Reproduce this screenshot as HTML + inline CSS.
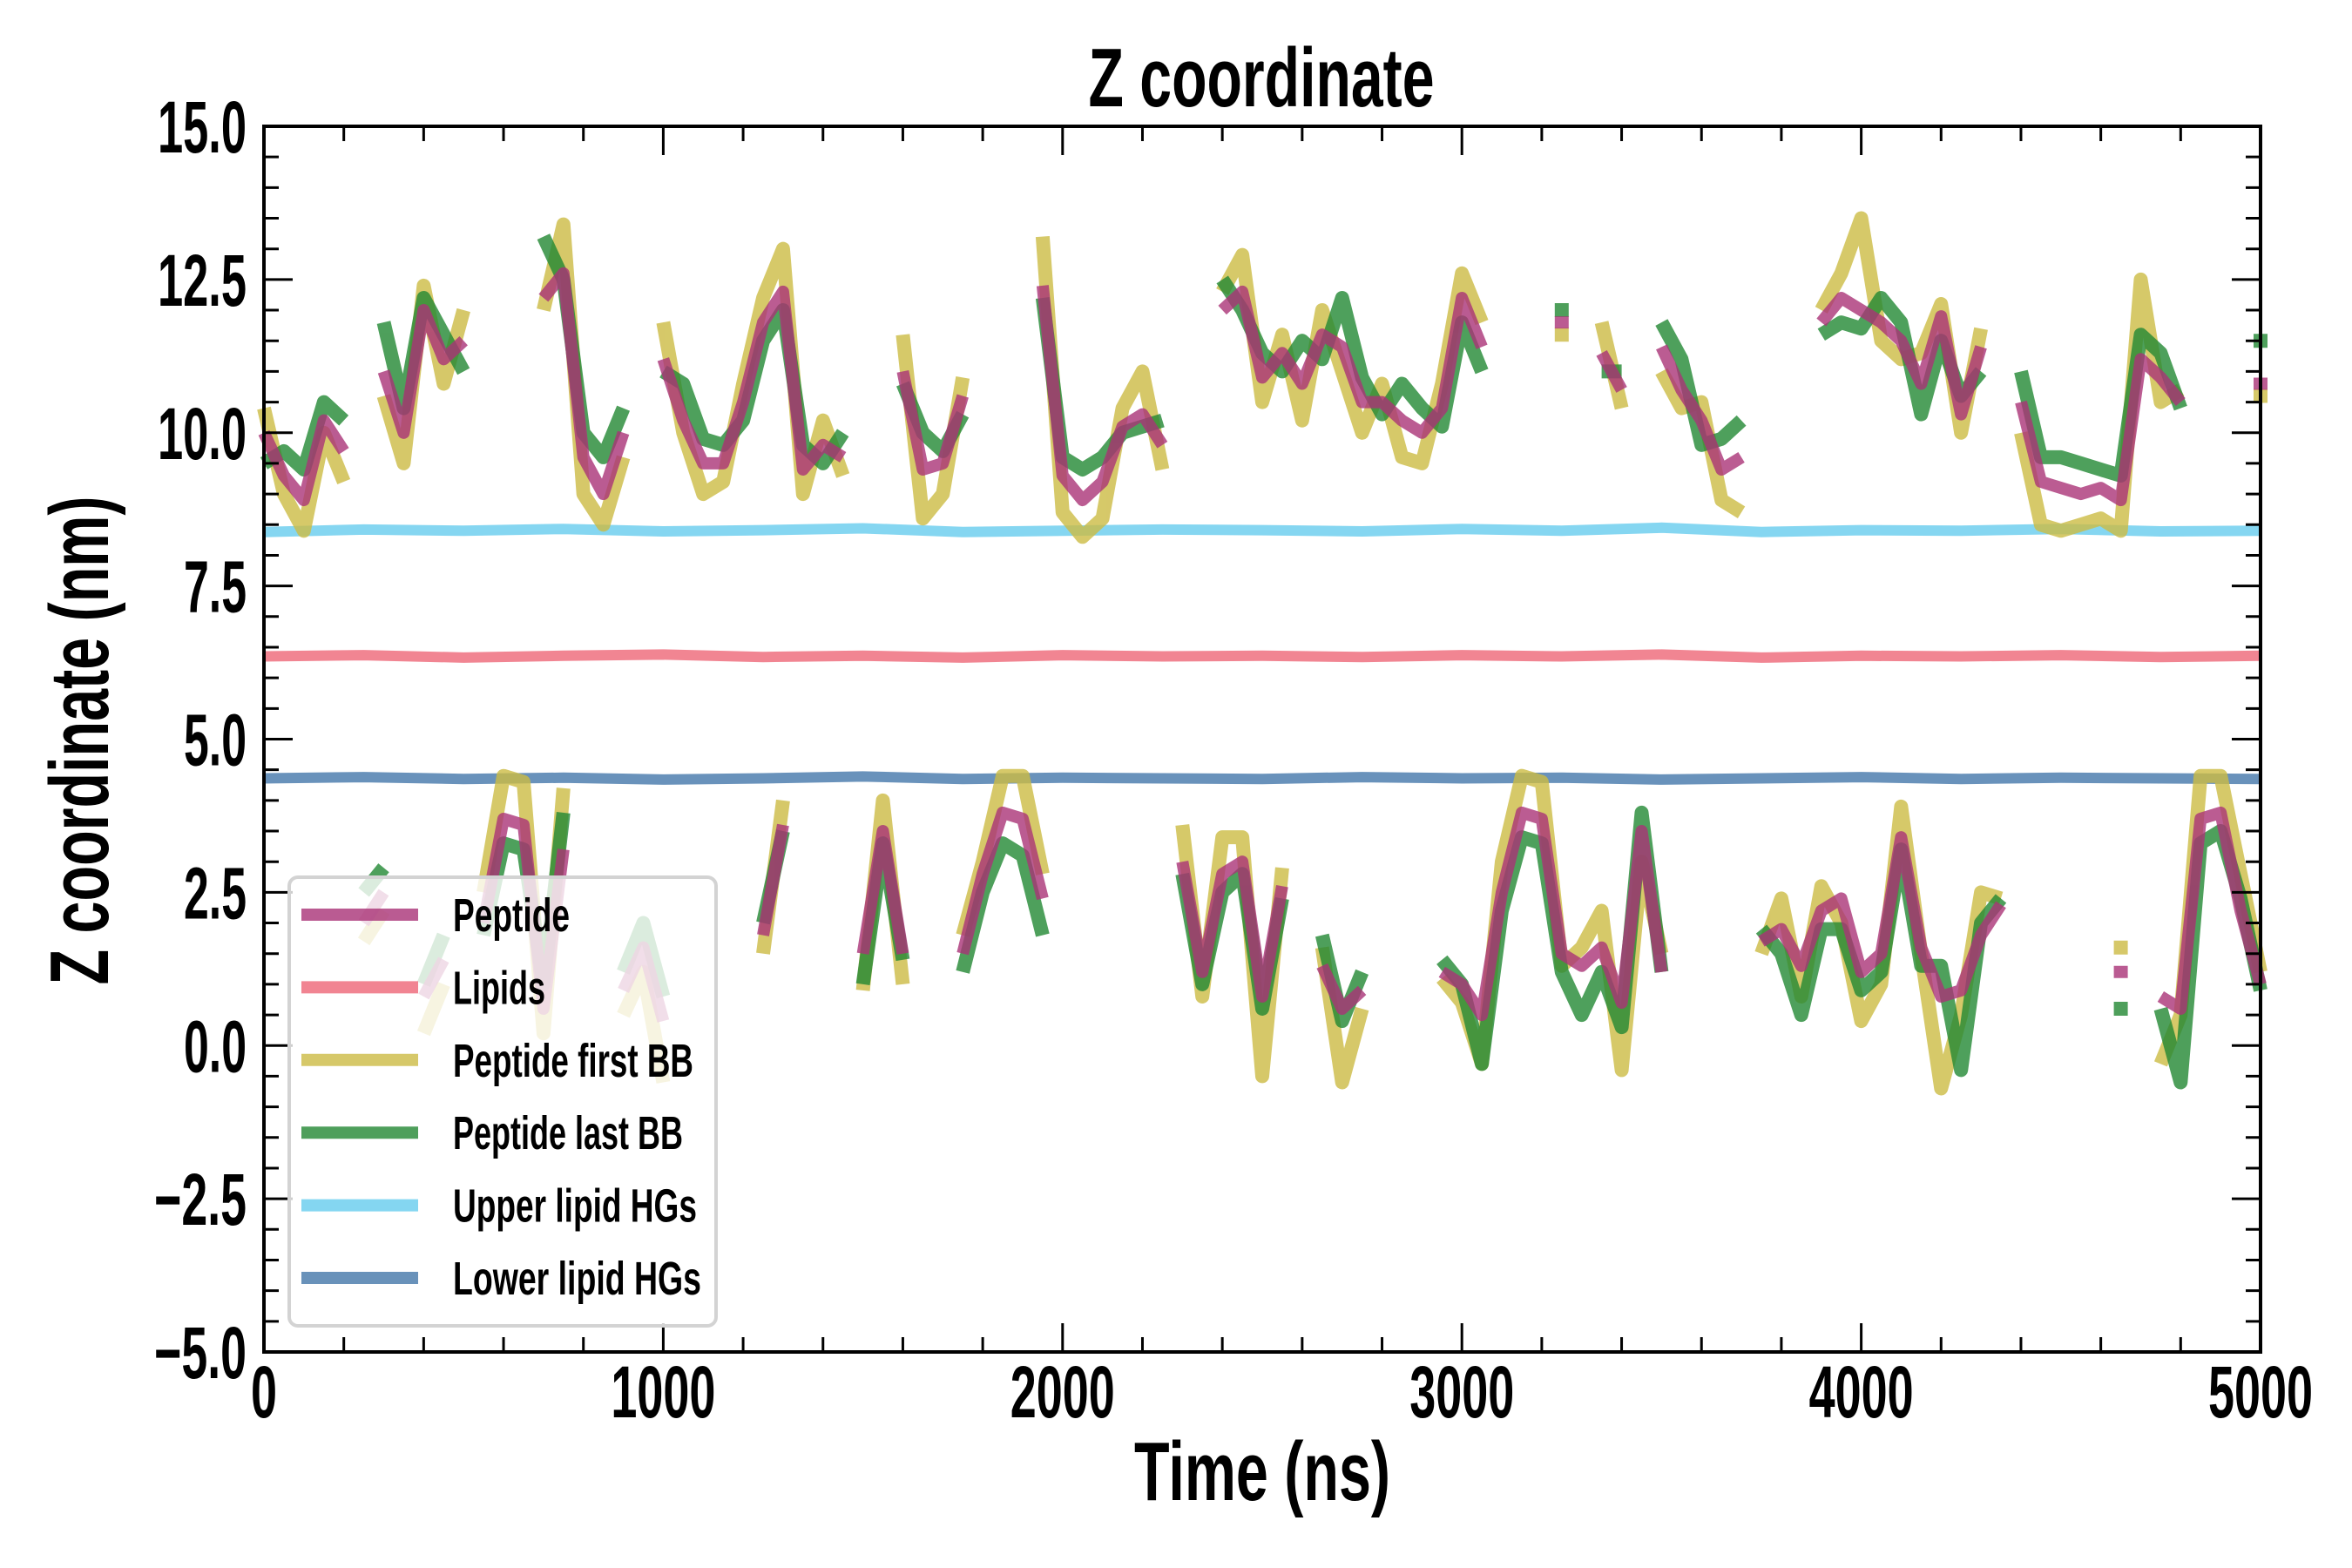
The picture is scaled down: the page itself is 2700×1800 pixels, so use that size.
<!DOCTYPE html>
<html>
<head>
<meta charset="utf-8">
<style>
html,body{margin:0;padding:0;background:#fff;}
svg{display:block;}
text{font-family:"Liberation Sans Narrow","Liberation Sans",sans-serif;font-weight:bold;fill:#000;}
</style>
</head>
<body>
<svg id="chart" width="2700" height="1800" viewBox="0 0 2700 1800" xmlns="http://www.w3.org/2000/svg">
  <rect x="0" y="0" width="2700" height="1800" fill="#fff"/>
  <g id="plot"></g>
  <g id="axes"></g>
  <g id="legend"></g>
  <text x="1448" y="122" text-anchor="middle" font-size="96" textLength="397" lengthAdjust="spacingAndGlyphs">Z coordinate</text>
  <text x="1449" y="1722" text-anchor="middle" font-size="96" textLength="294" lengthAdjust="spacingAndGlyphs">Time (ns)</text>
  <text x="0" y="0" transform="translate(124,850) rotate(-90)" text-anchor="middle" font-size="96" textLength="561" lengthAdjust="spacingAndGlyphs">Z coordinate (nm)</text>
</svg>
<script>
const timeNs = Array.from({length:101},(_,i)=>i*50);
const lipidTimeNs = Array.from({length:21},(_,i)=>i*250);

const pepUp = [10.0,9.3,8.9,10.2,9.7,null,11.0,10.0,12.0,11.2,
 11.5,null,null,null,12.2,12.6,9.6,9.0,10.0,null,
 11.2,10.2,9.5,9.5,10.5,11.8,12.3,9.4,9.8,9.6,
 null,null,11.0,9.4,9.5,10.6,null,null,null,12.4,
 9.3,8.9,9.2,10.1,10.3,9.8,null,null,12.0,12.3,
 10.9,11.3,10.8,11.6,11.4,10.5,10.5,10.2,10.0,10.4,
 12.2,11.4,null,null,null,11.8,null,11.3,10.7,null,
 11.4,10.7,10.2,9.4,9.6,null,null,null,11.8,12.2,
 12.0,11.8,11.5,10.8,11.9,10.3,11.4,null,10.5,9.2,
 9.1,9.0,9.1,8.9,11.2,10.9,10.5,null,null,null,
 10.8];
const firstUp = [10.4,9.0,8.4,10.0,9.2,null,10.6,9.5,12.4,10.8,
 12.0,null,null,null,12.0,13.4,9.0,8.5,9.6,null,
 11.8,10.0,9.0,9.2,10.8,12.2,13.0,9.0,10.2,9.3,
 null,null,11.6,8.6,9.0,10.9,null,null,null,13.2,
 8.7,8.3,8.6,10.4,11.0,9.4,null,null,12.3,12.9,
 10.5,11.6,10.2,12.0,11.0,10.0,10.8,9.6,9.5,10.8,
 12.6,11.8,null,null,null,11.6,null,11.8,10.4,null,
 11.0,10.4,10.5,8.9,8.7,null,null,null,12.0,12.6,
 13.5,11.5,11.2,11.3,12.1,10.0,11.7,null,10.0,8.5,
 8.4,8.5,8.6,8.4,12.5,10.5,10.7,null,null,null,
 10.6];
const lastUp = [9.5,9.7,9.4,10.5,10.2,null,11.8,10.4,12.2,11.6,
 11.0,null,null,null,13.2,12.5,10.0,9.6,10.4,null,
 11.0,10.8,9.9,9.8,10.2,11.5,12.0,9.8,9.5,10.0,
 null,null,10.8,10.0,9.7,10.3,null,null,null,12.2,
 9.6,9.4,9.6,10.0,10.1,10.2,null,null,12.5,12.0,
 11.3,11.0,11.5,11.2,12.2,10.9,10.3,10.8,10.4,10.1,
 11.8,11.0,null,null,null,12.0,null,11.0,11.0,null,
 11.8,11.2,9.8,9.9,10.2,null,null,null,11.6,11.8,
 11.7,12.2,11.8,10.3,11.5,10.6,11.0,null,11.0,9.6,
 9.6,9.5,9.4,9.3,11.6,11.3,10.4,null,null,null,
 11.5];
const pepLow = [null,null,null,null,null,2.0,2.5,null,0.8,1.4,
 null,2.0,3.7,3.6,0.6,3.2,null,null,0.9,1.6,
 0.4,null,null,null,null,1.8,3.6,null,null,null,
 1.5,3.5,1.5,null,null,1.5,2.8,3.8,3.7,2.4,
 null,null,null,null,null,null,3.0,1.2,2.8,3.0,
 0.8,2.6,null,1.3,0.6,0.9,null,null,null,1.2,
 1.0,0.5,2.5,3.8,3.7,1.5,1.3,1.6,0.7,3.5,
 1.2,null,null,null,null,1.7,1.9,1.3,2.2,2.4,
 1.2,1.5,3.4,1.6,0.8,0.9,1.8,2.3,null,null,
 null,null,null,1.2,null,0.8,0.6,3.7,3.8,2.2,
 1.0];
const firstLow = [null,null,null,null,null,1.7,2.2,null,0.2,1.0,
 null,2.5,4.4,4.3,0.2,4.2,null,null,0.5,1.2,
 -0.6,null,null,null,null,1.5,4.0,null,null,null,
 0.9,4.0,1.0,null,null,1.8,3.0,4.4,4.4,2.8,
 null,null,null,null,null,null,3.6,0.8,3.4,3.4,
 -0.5,2.9,null,1.6,-0.6,0.6,null,null,null,1.1,
 0.7,-0.3,3.0,4.4,4.3,1.3,1.6,2.2,-0.4,3.0,
 1.5,null,null,null,null,1.5,2.4,0.8,2.6,2.0,
 0.4,1.0,3.9,1.5,-0.7,0.5,2.5,2.4,null,null,
 null,null,null,1.6,null,-0.3,0.5,4.4,4.4,2.8,
 1.2];
const lastLow = [null,null,null,null,null,2.5,2.9,null,1.0,1.8,
 null,1.8,3.3,3.2,1.0,3.8,null,null,1.2,2.0,
 0.8,null,null,null,null,2.0,3.5,null,null,null,
 1.0,3.3,1.4,null,null,1.2,2.5,3.3,3.1,1.8,
 null,null,null,null,null,null,2.8,1.0,2.5,2.8,
 0.6,2.4,null,1.8,0.4,1.2,null,null,null,1.4,
 1.0,-0.3,2.2,3.4,3.3,1.2,0.5,1.2,0.3,3.8,
 1.2,null,null,null,null,1.9,1.5,0.5,1.9,1.9,
 0.9,1.2,3.2,1.3,1.3,-0.4,2.0,2.4,null,null,
 null,null,null,0.6,null,0.6,-0.6,3.3,3.5,2.4,
 0.9];
const lipidsZ = [6.35,6.37,6.33,6.36,6.38,6.34,6.36,6.33,6.37,6.35,6.36,6.34,6.37,6.35,6.38,6.33,6.36,6.35,6.37,6.34,6.36];
const upperHGZ = [8.38,8.42,8.40,8.43,8.39,8.41,8.44,8.38,8.40,8.42,8.41,8.39,8.43,8.40,8.45,8.38,8.41,8.40,8.43,8.39,8.40];
const lowerHGZ = [4.36,4.38,4.35,4.37,4.34,4.36,4.39,4.35,4.37,4.36,4.35,4.38,4.36,4.37,4.34,4.36,4.38,4.35,4.37,4.36,4.35];

const xTicks = [0,1000,2000,3000,4000,5000];
const xTickLabels = ["0","1000","2000","3000","4000","5000"];
const yTicks = [-5,-2.5,0,2.5,5,7.5,10,12.5,15];
const yTickLabels = ["\u22125.0","\u22122.5","0.0","2.5","5.0","7.5","10.0","12.5","15.0"];
const legendLabels = ["Peptide","Lipids","Peptide first BB","Peptide last BB","Upper lipid HGs","Lower lipid HGs"];

const X0=303, X1=2595, Y0=145, Y1=1552;
function xs(t){return X0+(t-0)/(5000-0)*(X1-X0);}
function ys(v){return Y1-(v-(-5))/(15-(-5))*(Y1-Y0);}
const NS="http://www.w3.org/2000/svg";
function mk(tag){return document.createElementNS(NS,tag);}

const COL={pep:"#AA3377",lip:"#EE6677",first:"#CCBB44",last:"#228833",up:"#66CCEE",low:"#4477AA"};
const plot=document.getElementById('plot');

function drawSeries(times, vals, color, width, name){
  const g=mk('g');
  
  
  g.setAttribute('opacity','0.8');
  let seg=[];
  const flush=()=>{
    if(seg.length===0) return;
    let pts=seg;
    if(seg.length===1){pts=[[seg[0][0]-8,seg[0][1]],[seg[0][0]+8,seg[0][1]]];}
    const p=mk('polyline');
    
    
    p.setAttribute('points',pts.map(q=>q[0].toFixed(1)+','+q[1].toFixed(1)).join(' '));
    p.setAttribute('fill','none');
    p.setAttribute('stroke',color);
    p.setAttribute('stroke-width',width);
    p.setAttribute('stroke-linejoin','round');
    g.appendChild(p);
    seg=[];
  };
  for(let i=0;i<vals.length;i++){
    if(vals[i]===null){flush();continue;}
    seg.push([xs(times[i]),ys(vals[i])]);
  }
  flush();
  plot.appendChild(g);
}
drawSeries(lipidTimeNs,lipidsZ,COL.lip,12,'lipids-line');
drawSeries(lipidTimeNs,upperHGZ,COL.up,12,'upper-lipid-hg-line');
drawSeries(lipidTimeNs,lowerHGZ,COL.low,12,'lower-lipid-hg-line');
drawSeries(timeNs,firstUp,COL.first,16,'peptide-first-bb-upper');
drawSeries(timeNs,firstLow,COL.first,16,'peptide-first-bb-lower');
drawSeries(timeNs,lastUp,COL.last,16,'peptide-last-bb-upper');
drawSeries(timeNs,lastLow,COL.last,16,'peptide-last-bb-lower');
drawSeries(timeNs,pepUp,COL.pep,14,'peptide-upper');
drawSeries(timeNs,pepLow,COL.pep,14,'peptide-lower');

// axes
const axes=document.getElementById('axes');
function line(x1,y1,x2,y2,w,name){
  const l=mk('line');
  
  
  l.setAttribute('x1',x1);l.setAttribute('y1',y1);l.setAttribute('x2',x2);l.setAttribute('y2',y2);
  l.setAttribute('stroke','#000');l.setAttribute('stroke-width',w);
  axes.appendChild(l);
}
const frame=mk('rect');


frame.setAttribute('x',X0);frame.setAttribute('y',Y0);frame.setAttribute('width',X1-X0);frame.setAttribute('height',Y1-Y0);
frame.setAttribute('fill','none');frame.setAttribute('stroke','#000');frame.setAttribute('stroke-width',4);
axes.appendChild(frame);
for(let t=0;t<=5000;t+=200){
  const major=(t%1000===0);
  const L=major?33:17, x=xs(t);
  line(x,Y1,x,Y1-L,3,'x-tick-bottom');
  line(x,Y0,x,Y0+L,3,'x-tick-top');
}
for(let k=0;k<=40;k++){
  const v=-5+k*0.5;
  const major=(k%5===0);
  const L=major?33:17, y=ys(v);
  line(X0,y,X0+L,y,3,'y-tick-left');
  line(X1,y,X1-L,y,3,'y-tick-right');
}
xTicks.forEach((t,i)=>{
  const tx=mk('text');
  
  
  tx.setAttribute('x',xs(t));tx.setAttribute('y',1627);
  tx.setAttribute('text-anchor','middle');tx.setAttribute('font-size','84');
  tx.setAttribute('textLength',String(xTickLabels[i].length*30));
  tx.setAttribute('lengthAdjust','spacingAndGlyphs');
  tx.textContent=xTickLabels[i];
  axes.appendChild(tx);
});
yTicks.forEach((v,i)=>{
  const tx=mk('text');
  
  
  tx.setAttribute('x',283);tx.setAttribute('y',ys(v)+30);
  tx.setAttribute('text-anchor','end');tx.setAttribute('font-size','84');
  const s=yTickLabels[i];
  let w=0;for(const c of s){w+= c==='.'?12:(c==='\u2212'?34:30);}
  tx.setAttribute('textLength',String(w));
  tx.setAttribute('lengthAdjust','spacingAndGlyphs');
  tx.textContent=s;
  axes.appendChild(tx);
});

// legend
const leg=document.getElementById('legend');
const box=mk('rect');


box.setAttribute('x',332);box.setAttribute('y',1007);box.setAttribute('width',490);box.setAttribute('height',515);
box.setAttribute('rx',10);box.setAttribute('fill','rgba(255,255,255,0.8)');box.setAttribute('stroke','#d3d3d3');box.setAttribute('stroke-width',4);
leg.appendChild(box);
const legColors=[COL.pep,COL.lip,COL.first,COL.last,COL.up,COL.low];
const legWidths=[134,106,276,264,280,285];
legendLabels.forEach((lab,i)=>{
  const y=1050+i*83.4;
  const l=mk('line');
  
  
  l.setAttribute('x1',346);l.setAttribute('x2',480);l.setAttribute('y1',y);l.setAttribute('y2',y);
  l.setAttribute('stroke',legColors[i]);l.setAttribute('stroke-width',14);l.setAttribute('opacity','0.8');
  leg.appendChild(l);
  const tx=mk('text');
  
  
  tx.setAttribute('x',520);tx.setAttribute('y',y+19);tx.setAttribute('font-size','54');
  tx.setAttribute('textLength',String(legWidths[i]));
  tx.setAttribute('lengthAdjust','spacingAndGlyphs');
  tx.textContent=lab;
  leg.appendChild(tx);
});
</script>
</body>
</html>
